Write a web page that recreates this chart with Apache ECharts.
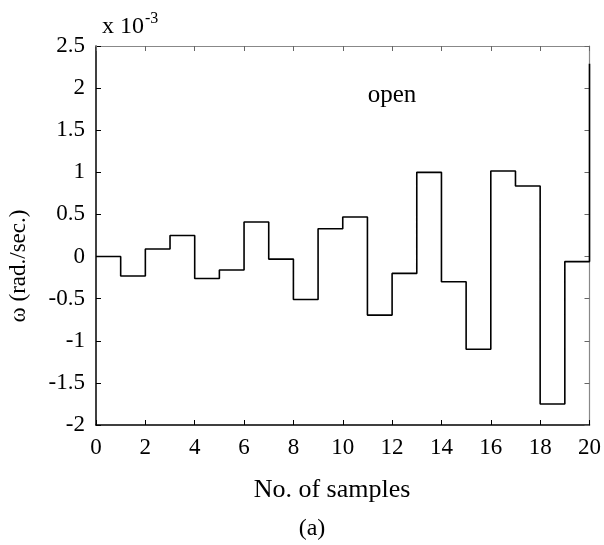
<!DOCTYPE html>
<html>
<head>
<meta charset="utf-8">
<script src="https://cdn.jsdelivr.net/npm/echarts@6/dist/echarts.min.js"></script>
<style>html,body{margin:0;padding:0;background:#fff;}#c{width:604px;height:545px;}</style>
</head>
<body>
<div id="c"></div>
<script>
const samples = [0,1,2,3,4,5,6,7,8,9,10,11,12,13,14,15,16,17,18,19,20];
const omega = [0.0, -0.23, 0.09, 0.25, -0.26, -0.16, 0.41, -0.03, -0.51, 0.33, 0.47, -0.695, -0.2, 1.0, -0.30, -1.10, 1.015, 0.837, -1.75, -0.06, 2.29];
const xTicks = [0,2,4,6,8,10,12,14,16,18,20];
const yTicks = [-2,-1.5,-1,-0.5,0,0.5,1,1.5,2,2.5];
const xLabel = 'No. of samples';
const yLabel = 'ω (rad./sec.)';
const caption = '(a)';
const note = 'open';

const font = 'Liberation Serif';
const chart = echarts.init(document.getElementById('c'), null, {renderer: 'canvas'});
const grid = {left: 96, right: 11, top: 46, bottom: 120};
const tickStyle = {show: true, inside: true, length: 5, lineStyle: {color: '#000', width: 1}};
chart.setOption({
  animation: false,
  backgroundColor: '#fff',
  grid: grid,
  xAxis: [
    {type: 'value', position: 'bottom', min: xTicks[0], max: xTicks[xTicks.length-1], interval: 2,
     axisLine: {show: true, onZero: false, lineStyle: {color: '#000', width: 1.5}},
     axisTick: tickStyle, splitLine: {show: false},
     axisLabel: {color: '#000', fontFamily: font, fontSize: 23, margin: 11}},
    {type: 'value', position: 'top', min: xTicks[0], max: xTicks[xTicks.length-1], interval: 2,
     axisLine: {show: true, onZero: false, lineStyle: {color: '#888', width: 1.2}},
     axisTick: {show: true, inside: true, length: 5, lineStyle: {color: '#666', width: 1}},
     splitLine: {show: false}, axisLabel: {show: false}}
  ],
  yAxis: [
    {type: 'value', position: 'left', min: yTicks[0], max: yTicks[yTicks.length-1], interval: 0.5,
     axisLine: {show: true, onZero: false, lineStyle: {color: '#000', width: 1.5}},
     axisTick: tickStyle, splitLine: {show: false},
     axisLabel: {color: '#000', fontFamily: font, fontSize: 23, margin: 11}},
    {type: 'value', position: 'right', min: yTicks[0], max: yTicks[yTicks.length-1], interval: 0.5,
     axisLine: {show: true, onZero: false, lineStyle: {color: '#888', width: 1.2}},
     axisTick: {show: true, inside: true, length: 5, lineStyle: {color: '#666', width: 1}},
     splitLine: {show: false}, axisLabel: {show: false}}
  ],
  series: [{
    type: 'line', step: 'end', xAxisIndex: 0, yAxisIndex: 0,
    data: samples.map((s, i) => [s, omega[i]]),
    showSymbol: false, symbol: 'none', clip: false,
    lineStyle: {color: '#000', width: 1.6}
  }],
  graphic: [
    {type: 'text', x: 332, y: 490, style: {text: xLabel, font: '26px "Liberation Serif"', fill: '#000', align: 'center', verticalAlign: 'middle'}},
    {type: 'text', x: 312, y: 529, style: {text: caption, font: '24px "Liberation Serif"', fill: '#000', align: 'center', verticalAlign: 'middle'}},
    {type: 'text', x: 392, y: 95, style: {text: note, font: '25px "Liberation Serif"', fill: '#000', align: 'center', verticalAlign: 'middle'}},
    {type: 'text', x: 19, y: 266, rotation: Math.PI/2, style: {text: yLabel, font: '23px "Liberation Serif"', fill: '#000', align: 'center', verticalAlign: 'middle'}},
    {type: 'text', x: 102, y: 27, style: {
      text: '{b|x 10}{s|-3}', verticalAlign: 'middle', align: 'left',
      rich: {b: {fontFamily: font, fontSize: 24, fill: '#000', color: '#000'},
             s: {fontFamily: font, fontSize: 16, fill: '#000', color: '#000', verticalAlign: 'top', padding: [0,0,16,1]}}
    }}
  ]
});
</script>
</body>
</html>
